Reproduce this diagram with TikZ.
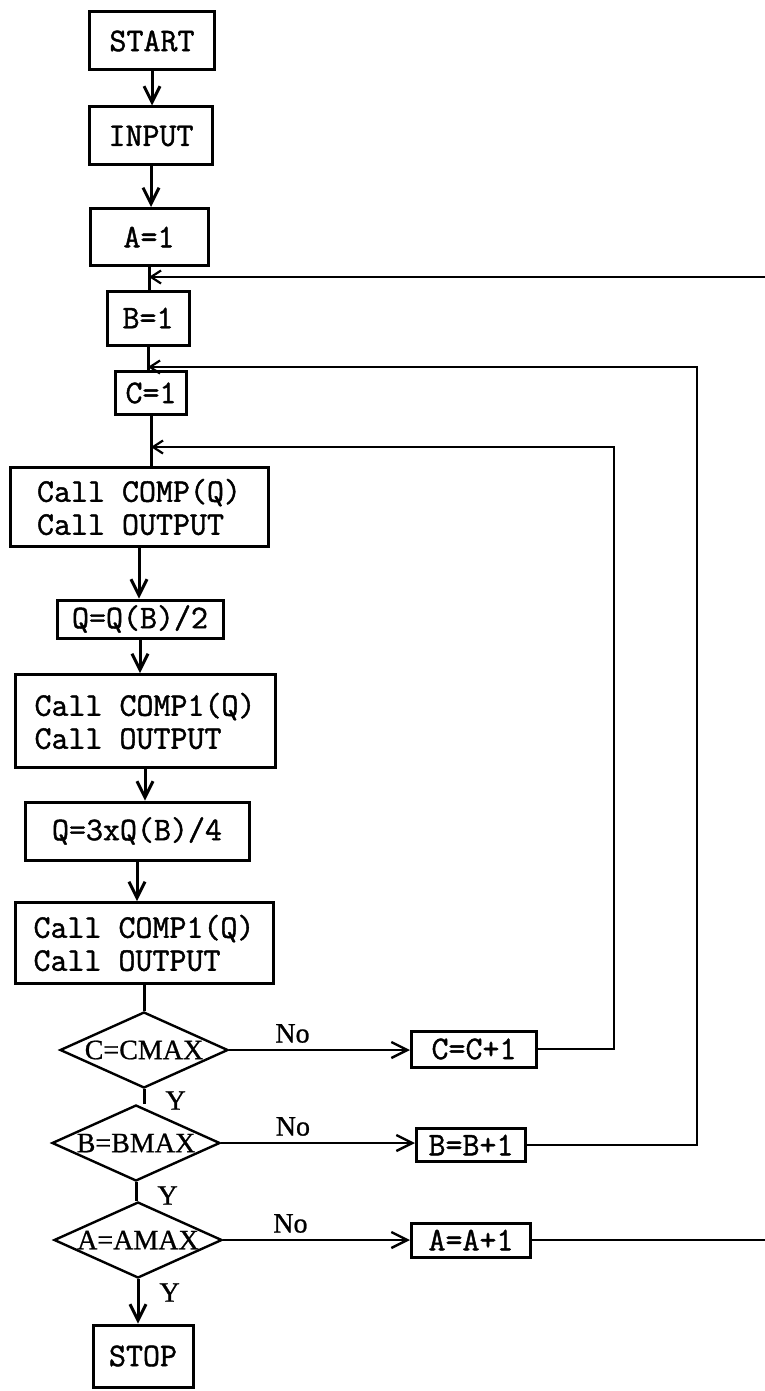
\documentclass[tikz,border=0pt]{standalone}
\usepackage{fontspec}
\newfontfamily\boxfont{Latin Modern Mono}[FakeBold=1.3]
\newfontfamily\tagfont{Liberation Serif}[FakeBold=0.8]
\usetikzlibrary{positioning, calc, arrows.meta, shapes.geometric}
\tikzset{
    stepnode/.style={rectangle, draw, line width=1.5pt, inner sep=0pt, align=left, font=\boxfont\fontsize{16.5}{16.5}\selectfont},
    testnode/.style={diamond, draw, line width=1.2pt, inner sep=0pt, aspect=2.2, minimum width=84pt, minimum height=38pt, font=\tagfont\fontsize{14}{14}\selectfont},
    flow/.style={line width=1.5pt, -{Straight Barb[length=8pt, width=8pt]}},
    link/.style={line width=1.5pt},
    loopback/.style={line width=1.1pt, -{Straight Barb[length=5pt, width=6.5pt]}},
    tag/.style={font=\tagfont\fontsize{14}{14}\selectfont, inner sep=3pt},
}
\begin{document}
\begin{tikzpicture}[x=0.5pt, y=-0.5pt]
    \useasboundingbox[fill=white] (0,0) rectangle (765,1391);
    \clip (0,0) rectangle (765,1391);

    % Blocchi principali
    \node[stepnode, minimum width=62.5pt, minimum height=29pt] (start) at (152,41) {START};
    \node[stepnode, minimum width=61.5pt, minimum height=29pt] (input) at (151,136) {INPUT};
    \node[stepnode, minimum width=59pt, minimum height=28.5pt] (aone) at (149,237) {A=1};
    \node[stepnode, minimum width=41pt, minimum height=27pt] (bone) at (148,318) {B=1};
    \node[stepnode, minimum width=35.5pt, minimum height=21.5pt] (cone) at (151,393) {C=1};
    \node[stepnode, minimum width=129pt, minimum height=39.5pt] (comp) at (139,507) {Call COMP(Q)\\Call OUTPUT};
    \node[stepnode, minimum width=83pt, minimum height=19pt] (half) at (140,619) {Q=Q(B)/2};
    \node[stepnode, minimum width=130pt, minimum height=46.5pt] (compa) at (145,721) {Call COMP1(Q)\\Call OUTPUT};
    \node[stepnode, minimum width=112pt, minimum height=29pt] (quarter) at (137,831) {Q=3xQ(B)/4};
    \node[stepnode, minimum width=129pt, minimum height=40.5pt] (compb) at (144,943) {Call COMP1(Q)\\Call OUTPUT};

    % Test
    \node[testnode] (cmax) at (144,1050) {C=CMAX};
    \node[testnode] (bmax) at (136,1143) {B=BMAX};
    \node[testnode] (amax) at (138,1240) {A=AMAX};
    \node[stepnode, minimum width=50pt, minimum height=31pt] (stop) at (143,1356) {STOP};

    % Incrementi
    \node[stepnode, minimum width=62.5pt, minimum height=18pt] (cinc) at (474,1049) {C=C+1};
    \node[stepnode, minimum width=54.5pt, minimum height=16.5pt] (binc) at (471,1145) {B=B+1};
    \node[stepnode, minimum width=59.5pt, minimum height=17pt] (ainc) at (471,1240) {A=A+1};

    % Linea principale
    \draw[flow] (start.south) -- (start.south |- input.north);
    \draw[flow] (input.south) -- (input.south |- aone.north);
    \draw[link] (aone.south) -- (aone.south |- bone.north);
    \draw[link] (bone.south) -- (bone.south |- cone.north);
    \draw[link] (cone.south) -- (cone.south |- comp.north);
    \draw[flow] (comp.south) -- (comp.south |- half.north);
    \draw[flow] (half.south) -- (half.south |- compa.north);
    \draw[flow] (compa.south) -- (compa.south |- quarter.north);
    \draw[flow] (quarter.south) -- (quarter.south |- compb.north);
    \draw[link] (compb.south) -- (compb.south |- cmax.north);
    \draw[link] (cmax.south) -- node[tag, right, xshift=7pt, yshift=-2pt] {Y} (cmax.south |- bmax.north);
    \draw[link] (bmax.south) -- node[tag, right, xshift=7pt, yshift=-2pt] {Y} (bmax.south |- amax.north);
    \draw[flow] (amax.south) -- node[tag, right, xshift=7pt, pos=0.3] {Y} (amax.south |- stop.north);

    % Rami No
    \draw[flow, line width=1.2pt] (cmax.east) -- node[tag, above, pos=0.35] {No} (cmax.east -| cinc.west);
    \draw[flow, line width=1.2pt] (bmax.east) -- node[tag, above, pos=0.37] {No} (bmax.east -| binc.west);
    \draw[flow, line width=1.2pt] (amax.east) -- node[tag, above, pos=0.36] {No} (amax.east -| ainc.west);

    % Ritorni dei cicli
    \coordinate (rc) at (614,447);
    \coordinate (rb) at (697,367);
    \coordinate (ra) at (800,277);
    \draw[loopback] (cinc.east) -| (rc) -- (rc -| cone.south);
    \draw[loopback] (binc.east) -| (rb) -- (rb -| bone.south);
    \draw[loopback] (ainc.east) -| (ra) -- (ra -| aone.south);
\end{tikzpicture}
\end{document}
